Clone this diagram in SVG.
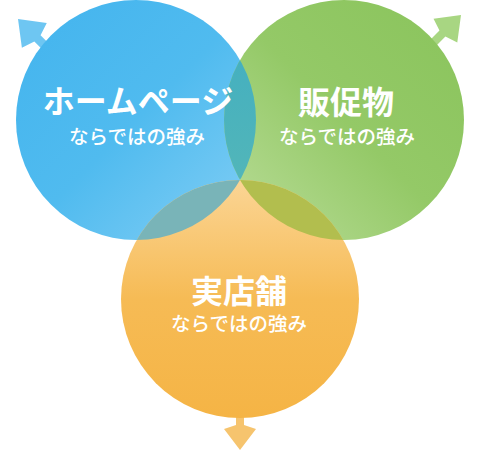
<svg xmlns="http://www.w3.org/2000/svg" width="480" height="452" viewBox="0 0 480 452">
  <defs>
    <linearGradient id="gBlue" x1="0" y1="0" x2="1" y2="1">
      <stop offset="0" stop-color="#43b4ee"/>
      <stop offset="0.5" stop-color="#50bbef"/>
      <stop offset="1" stop-color="#84cff5"/>
    </linearGradient>
    <linearGradient id="gGreen" x1="1" y1="0" x2="0" y2="1">
      <stop offset="0" stop-color="#8ac45c"/>
      <stop offset="0.5" stop-color="#94c967"/>
      <stop offset="1" stop-color="#bcde9c"/>
    </linearGradient>
    <linearGradient id="gOrange" x1="0" y1="0" x2="0" y2="1">
      <stop offset="0" stop-color="#fbd595"/>
      <stop offset="0.5" stop-color="#f6bb55"/>
      <stop offset="1" stop-color="#f5b445"/>
    </linearGradient>
    <linearGradient id="gBG" x1="0" y1="0" x2="0" y2="1">
      <stop offset="0" stop-color="#3fadc2"/>
      <stop offset="1" stop-color="#58b9b6"/>
    </linearGradient>
    <clipPath id="cBlue"><circle cx="136" cy="120" r="120"/></clipPath>
    <clipPath id="cOrange"><circle cx="240" cy="299" r="119"/></clipPath>
    <polygon id="arrow" points="0,0 16,21 4,25 4,42 -4,42 -4,25 -16,21"/>
  </defs>
  <style>
    .main { font-family: "Noto Sans CJK JP", "Noto Sans", sans-serif; font-weight: bold; font-size: 32px; fill: #ffffff; text-anchor: middle; }
    .sub { font-family: "Noto Sans CJK JP", "Noto Sans", sans-serif; font-weight: 500; font-size: 19.5px; fill: #ffffff; text-anchor: middle; }
  </style>

  <g id="connectors">
    <use href="#arrow" transform="translate(18,19) rotate(-45) scale(1.1)" fill="#3db3ee" opacity="0.75"/>
    <use href="#arrow" transform="translate(461,15) rotate(45) scale(1.05)" fill="#8bc858" opacity="0.75"/>
    <use href="#arrow" transform="translate(240,450) rotate(180)" fill="#f3b03d" opacity="0.75"/>
  </g>

  <g id="node-homepage">
    <circle cx="136" cy="120" r="120" fill="url(#gBlue)"/>
  </g>
  <g id="node-hansokubutsu">
    <circle cx="344" cy="120" r="120" fill="url(#gGreen)"/>
  </g>
  <g id="node-jitsutenpo">
    <circle cx="240" cy="299" r="119" fill="url(#gOrange)"/>
  </g>
  <g id="overlaps">
    <g clip-path="url(#cBlue)"><circle cx="344" cy="120" r="120" fill="url(#gBG)"/></g>
    <g clip-path="url(#cOrange)"><circle cx="136" cy="120" r="120" fill="#79b4b8"/></g>
    <g clip-path="url(#cOrange)"><circle cx="344" cy="120" r="120" fill="#b2be4e"/></g>
  </g>

  <g id="labels">
    <text class="main" x="138" y="113">ホームページ</text>
    <text class="sub" x="137" y="144">ならではの強み</text>
    <text class="main" x="346" y="114">販促物</text>
    <text class="sub" x="347" y="144">ならではの強み</text>
    <text class="main" x="239" y="303">実店舗</text>
    <text class="sub" x="239" y="331">ならではの強み</text>
  </g>
</svg>
